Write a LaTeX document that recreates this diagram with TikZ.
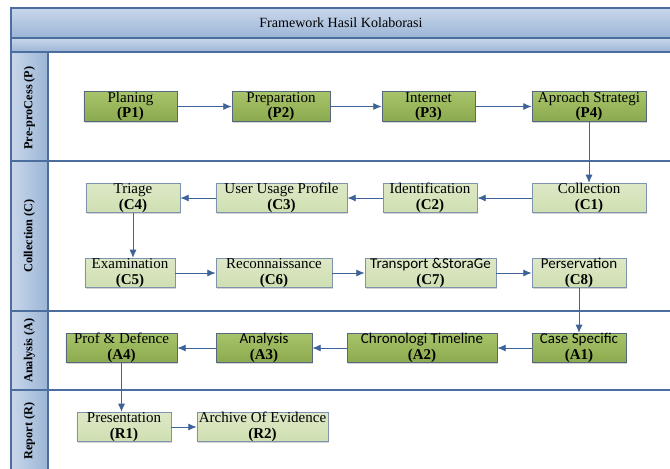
\documentclass[tikz,border=0pt]{standalone}
\usepackage{fontspec}
\setmainfont{Liberation Serif}
\newfontfamily\timesfont{Liberation Serif}
\newfontfamily\calib{Carlito}
\usetikzlibrary{arrows.meta,shadows}

\definecolor{bandtop}{HTML}{C9D7EA}
\definecolor{bandbot}{HTML}{9BB5D6}
\definecolor{frameline}{HTML}{4C6E9E}
\definecolor{flowline}{HTML}{3E6399}
\definecolor{greentop}{HTML}{A8C46A}
\definecolor{greenbot}{HTML}{8BA94E}
\definecolor{greenline}{HTML}{56687E}
\definecolor{paletop}{HTML}{DDE8C6}
\definecolor{palebot}{HTML}{CFDFB1}
\definecolor{paleline}{HTML}{7F92AE}

\tikzset{
  greenbox/.style={draw=greenline, line width=0.8pt, top color=greentop, bottom color=greenbot,
    minimum height=0.88cm, inner sep=0pt, align=center,
    font=\timesfont\fontsize{12.8}{13.2}\selectfont,
    drop shadow={opacity=0.35, shadow xshift=1.2pt, shadow yshift=-1.2pt}},
  palebox/.style={greenbox, draw=paleline, top color=paletop, bottom color=palebot},
  lanehead/.style={rotate=90, font=\timesfont\fontsize{10.5}{12}\selectfont\bfseries},
  flow/.style={draw=flowline, line width=0.7pt, -{Latex[length=7pt,width=6pt]}},
}

\begin{document}
\begin{tikzpicture}[x=0.03cm, y=-0.03cm]
  \useasboundingbox (0,0) rectangle (670,468);

  % Title bands
  \shade[top color=bandtop, bottom color=bandbot] (11,8) rectangle (672,38);
  \shade[top color=bandtop, bottom color=bandbot] (11,38) rectangle (672,52);
  \node[font=\timesfont\fontsize{12}{13}\selectfont] (title) at (341,23) {Framework Hasil Kolaborasi};

  % Lane heads
  \shade[left color=bandtop, right color=bandbot] (11,52) rectangle (48,470);
  \node[lanehead] (lP) at (29.5,108) {Pre-proCess (P)};
  \node[lanehead] (lC) at (29.5,236) {Collection (C)};
  \node[lanehead] (lA) at (29.5,350.5) {Analysis (A)};
  \node[lanehead] (lR) at (29.5,431) {Report (R)};

  % Frame
  \draw[frameline, line width=1.2pt] (672,8) -- (11,8) -- (11,470);
  \draw[frameline, line width=1.2pt] (11,38) -- (672,38);
  \draw[frameline, line width=1.2pt] (11,52) -- (672,52);
  \draw[frameline, line width=1.2pt] (48,52) -- (48,470);
  \foreach \y in {161,311,390}
    \draw[frameline, line width=1.2pt] (11,\y) -- (672,\y);

  % Pre-proCess
  \node[greenbox, minimum width=2.79cm] (P1) at (130.5,106.5) {Planing\\\textbf{(P1)}};
  \node[greenbox, minimum width=2.94cm] (P2) at (281,106.5) {Preparation\\\textbf{(P2)}};
  \node[greenbox, minimum width=2.79cm] (P3) at (428.5,106.5) {Internet\\\textbf{(P3)}};
  \node[greenbox, minimum width=3.42cm] (P4) at (589,106.5) {Aproach Strategi\\\textbf{(P4)}};

  % Collection
  \node[palebox, minimum width=3.42cm] (C1) at (589,198) {Collection\\\textbf{(C1)}};
  \node[palebox, minimum width=2.82cm] (C2) at (430,198) {Identification\\\textbf{(C2)}};
  \node[palebox, minimum width=3.93cm] (C3) at (281.5,198) {User Usage Profile\\\textbf{(C3)}};
  \node[palebox, minimum width=2.82cm] (C4) at (133,198) {Triage\\\textbf{(C4)}};
  \node[palebox, minimum width=2.7cm] (C5) at (130,273) {Examination\\\textbf{(C5)}};
  \node[palebox, minimum width=3.48cm] (C6) at (274,273) {Reconnaissance\\\textbf{(C6)}};
  \node[palebox, minimum width=3.93cm] (C7) at (430.5,273) {{\calib Transport \&StoraGe}\\\textbf{(C7)}};
  \node[palebox, minimum width=2.82cm] (C8) at (579,273) {{\calib Perservation}\\\textbf{(C8)}};

  % Analysis
  \node[greenbox, minimum width=2.82cm] (A1) at (579,348) {{\calib Case Specific}\\\textbf{(A1)}};
  \node[greenbox, minimum width=4.5cm] (A2) at (422,348) {{\calib Chronologi Timeline}\\\textbf{(A2)}};
  \node[greenbox, minimum width=2.88cm] (A3) at (264,348) {{\calib Analysis}\\\textbf{(A3)}};
  \node[greenbox, minimum width=3.33cm] (A4) at (121.5,348) {Prof \& Defence\\\textbf{(A4)}};

  % Report
  \node[palebox, minimum width=2.82cm] (R1) at (124,427) {Presentation\\\textbf{(R1)}};
  \node[palebox, minimum width=3.93cm] (R2) at (262.5,427) {Archive Of Evidence\\\textbf{(R2)}};

  % Flow
  \draw[flow] (P1) -- (P2);
  \draw[flow] (P2) -- (P3);
  \draw[flow] (P3) -- (P4);
  \draw[flow] (P4) -- (C1);
  \draw[flow] (C1) -- (C2);
  \draw[flow] (C2) -- (C3);
  \draw[flow] (C3) -- (C4);
  \draw[flow] (C4.south) -- (C4.south |- C5.north);
  \draw[flow] (C5) -- (C6);
  \draw[flow] (C6) -- (C7);
  \draw[flow] (C7) -- (C8);
  \draw[flow] (C8) -- (A1);
  \draw[flow] (A1) -- (A2);
  \draw[flow] (A2) -- (A3);
  \draw[flow] (A3) -- (A4);
  \draw[flow] (A4.south) -- (A4.south |- R1.north);
  \draw[flow] (R1) -- (R2);
\end{tikzpicture}
\end{document}
